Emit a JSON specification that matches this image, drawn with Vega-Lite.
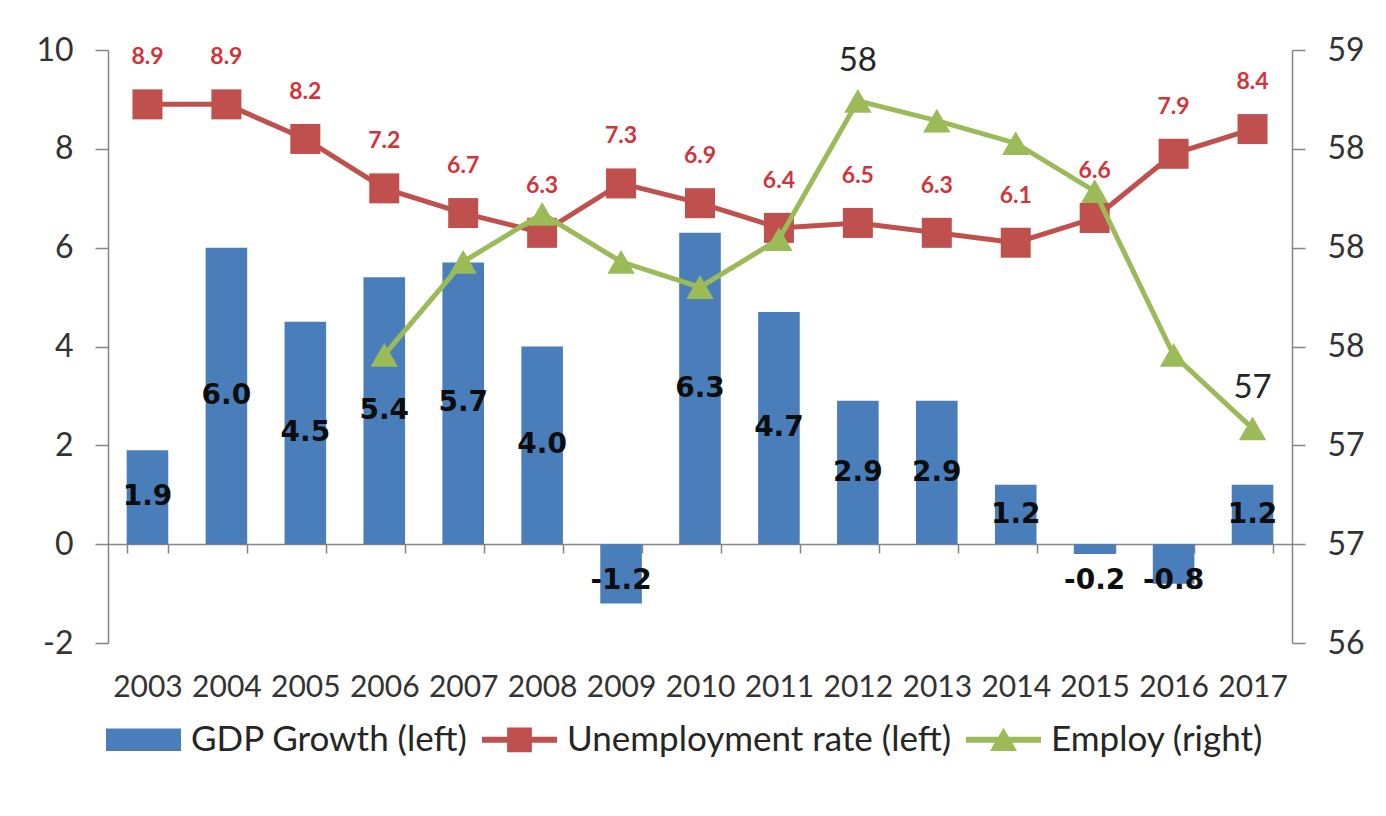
{
  "$schema": "https://vega.github.io/schema/vega-lite/v6.json",
  "width": 1184,
  "height": 593,
  "autosize": {"type": "none"},
  "padding": {"left": 108, "top": 50, "right": 94, "bottom": 173},
  "background": "white",
  "config": {
    "view": {"stroke": null},
    "font": "Lato",
    "locale": {"number": {"decimal": ".", "thousands": ",", "grouping": [3], "currency": ["$", ""], "minus": "-"}},
    "axis": {"grid": false, "domainColor": "#868686", "tickColor": "#868686", "labelColor": "#333333", "labelFont": "Lato", "title": null}
  },
  "data": {
    "values": [
      {"year": "2003", "gdp": 1.9, "unemp": 8.9, "employ": null},
      {"year": "2004", "gdp": 6.0, "unemp": 8.9, "employ": null},
      {"year": "2005", "gdp": 4.5, "unemp": 8.2, "employ": null},
      {"year": "2006", "gdp": 5.4, "unemp": 7.2, "employ": 57.47},
      {"year": "2007", "gdp": 5.7, "unemp": 6.7, "employ": 57.80},
      {"year": "2008", "gdp": 4.0, "unemp": 6.3, "employ": 57.97},
      {"year": "2009", "gdp": -1.2, "unemp": 7.3, "employ": 57.80},
      {"year": "2010", "gdp": 6.3, "unemp": 6.9, "employ": 57.71},
      {"year": "2011", "gdp": 4.7, "unemp": 6.4, "employ": 57.88},
      {"year": "2012", "gdp": 2.9, "unemp": 6.5, "employ": 58.37},
      {"year": "2013", "gdp": 2.9, "unemp": 6.3, "employ": 58.30},
      {"year": "2014", "gdp": 1.2, "unemp": 6.1, "employ": 58.22},
      {"year": "2015", "gdp": -0.2, "unemp": 6.6, "employ": 58.05},
      {"year": "2016", "gdp": -0.8, "unemp": 7.9, "employ": 57.47},
      {"year": "2017", "gdp": 1.2, "unemp": 8.4, "employ": 57.21}
    ]
  },
  "encoding": {
    "x": {
      "field": "year", "type": "ordinal",
      "scale": {"paddingInner": 0.473, "paddingOuter": 0.2365},
      "axis": {"orient": "bottom", "offset": -99, "labelAngle": 0, "tickBand": "extent", "tickSize": 9, "labelPadding": 119, "labelFontSize": 30, "labelBaseline": "top", "domainWidth": 1.5, "tickWidth": 1.5}
    }
  },
  "layer": [
    {
      "layer": [
        {
          "mark": {"type": "bar", "color": "#4a7ebb"},
          "encoding": {
            "y": {"field": "gdp", "type": "quantitative", "scale": {"domain": [-2, 10], "nice": false, "zero": false},
              "axis": {"orient": "left", "values": [-2, 0, 2, 4, 6, 8, 10], "tickSize": 13, "labelPadding": 22, "labelFontSize": 32, "domainWidth": 1.5, "tickWidth": 1.5}}
          }
        },
        {
          "transform": [{"calculate": "datum.gdp >= 0 ? datum.gdp / 2 : -0.75", "as": "labelPos"}],
          "mark": {"type": "text", "font": "DejaVu Sans", "fontWeight": "bold", "fontSize": 28, "color": "#0d0d0d", "baseline": "middle"},
          "encoding": {
            "y": {"field": "labelPos", "type": "quantitative"},
            "text": {"field": "gdp", "type": "quantitative", "format": ".1f"}
          }
        },
        {
          "mark": {"type": "line", "color": "#c0504d", "strokeWidth": 5, "point": {"shape": "square", "size": 900, "color": "#c0504d", "filled": true, "opacity": 1}},
          "encoding": {
            "y": {"field": "unemp", "type": "quantitative"}
          }
        },
        {
          "mark": {"type": "text", "font": "Lato", "fontWeight": "bold", "fontSize": 23, "color": "#d1343a", "baseline": "middle", "dy": -47},
          "encoding": {
            "y": {"field": "unemp", "type": "quantitative"},
            "text": {"field": "unemp", "type": "quantitative", "format": ".1f"}
          }
        }
      ]
    },
    {
      "layer": [
        {
          "mark": {"type": "line", "color": "#9bbb59", "strokeWidth": 5, "point": {"shape": "triangle-up", "size": 750, "color": "#9bbb59", "filled": true, "opacity": 1}},
          "encoding": {
            "y": {"field": "employ", "type": "quantitative", "scale": {"domain": [56.45, 58.55], "nice": false, "zero": false},
              "axis": {"orient": "right", "values": [56.45, 56.8, 57.15, 57.5, 57.85, 58.2, 58.55], "format": ".0f", "tickSize": 13, "labelPadding": 22, "labelFontSize": 32, "domainWidth": 1.5, "tickWidth": 1.5}}
          }
        },
        {
          "transform": [{"filter": "datum.year == '2012' || datum.year == '2017'"}],
          "mark": {"type": "text", "font": "Lato", "fontSize": 33, "color": "#262626", "baseline": "middle", "dy": -40},
          "encoding": {
            "y": {"field": "employ", "type": "quantitative"},
            "text": {"field": "employ", "type": "quantitative", "format": ".0f"}
          }
        }
      ]
    },
    {
      "data": {"values": [{"s": "GDP Growth (left)"}, {"s": "Unemployment rate (left)"}, {"s": "Employ (right)"}]},
      "mark": {"type": "point", "filled": true, "opacity": 0},
      "encoding": {
        "x": null,
        "color": {"field": "s", "type": "nominal",
          "scale": {"domain": ["GDP Growth (left)", "Unemployment rate (left)", "Employ (right)"], "range": ["#4a7ebb", "#c0504d", "#9bbb59"]},
          "legend": {"orient": "none", "legendX": -2, "legendY": 652, "direction": "horizontal", "title": null, "symbolSize": 5625, "symbolStrokeWidth": 0, "symbolOpacity": 1, "labelFontSize": 35, "labelFont": "Lato", "labelColor": "#262626", "labelOffset": 10, "labelLimit": 0, "columnPadding": 14}},
        "shape": {"field": "s", "type": "nominal",
          "scale": {"domain": ["GDP Growth (left)", "Unemployment rate (left)", "Employ (right)"],
            "range": ["M-1,-0.3H1V0.3H-1Z", "M-1,-0.08H1V0.08H-1Z M-0.33,-0.33H0.33V0.33H-0.33Z", "M-1,-0.08H1V0.08H-1Z M-0.36,0.3L0,-0.32L0.36,0.3Z"]},
          "legend": {"orient": "none", "legendX": -2, "legendY": 652, "direction": "horizontal", "title": null, "symbolSize": 5625, "symbolStrokeWidth": 0, "symbolOpacity": 1, "labelFontSize": 35, "labelFont": "Lato", "labelColor": "#262626", "labelOffset": 10, "labelLimit": 0, "columnPadding": 14}}
      }
    }
  ],
  "resolve": {"scale": {"y": "independent"}}
}
